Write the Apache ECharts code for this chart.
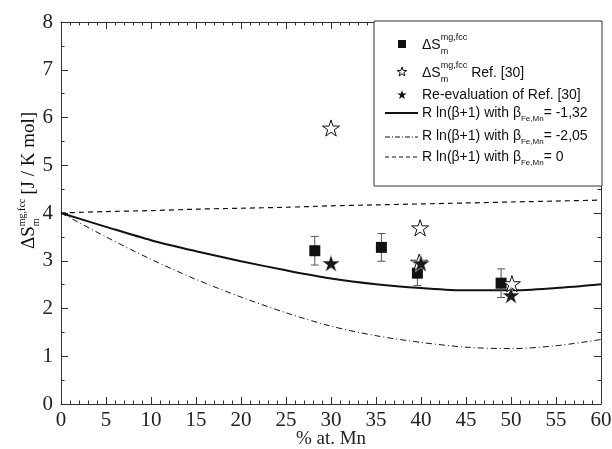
<!DOCTYPE html>
<html>
<head>
<meta charset="utf-8">
<script src="https://cdn.jsdelivr.net/npm/echarts@6/dist/echarts.min.js"></script>
<style>
  html, body { margin: 0; padding: 0; background: #fff; }
  #chart { width: 612px; height: 449px; }
</style>
</head>
<body>
<div id="chart"></div>
<script>
// curves, read every 5 % at. Mn
const curveX = [0, 5, 10, 15, 20, 25, 30, 35, 40, 45, 50, 55, 60]
const solidY = [4.00, 3.71, 3.43, 3.20, 2.99, 2.80, 2.63, 2.51, 2.43, 2.38, 2.38, 2.43, 2.51]
const dashDotY = [4.00, 3.50, 3.03, 2.61, 2.24, 1.91, 1.63, 1.43, 1.29, 1.19, 1.16, 1.22, 1.35]
const dashedY = [4.00, 4.03, 4.05, 4.08, 4.10, 4.12, 4.15, 4.17, 4.19, 4.21, 4.23, 4.25, 4.27]

// measured points
const sqX = [28.2, 35.6, 39.6, 48.9]
const sqY = [3.21, 3.28, 2.74, 2.53]
const sqErr = [0.30, 0.29, 0.26, 0.30]

const openStarX = [30.0, 39.9, 39.8, 50.1]
const openStarY = [5.78, 3.69, 2.97, 2.52]

const fullStarX = [30.0, 40.0, 50.0]
const fullStarY = [2.95, 2.95, 2.28]

const SERIF = '"Liberation Serif", "DejaVu Serif", serif'
const SANS = '"Liberation Sans", Arial, sans-serif'
const INK = '#111'

const starPath = 'path://M100 0 L122.45 69.1 L195.1 69.1 L136.3 111.8 L158.8 180.9 L100 138.2 L41.2 180.9 L63.7 111.8 L4.9 69.1 L77.55 69.1 Z'

// text helpers for the hand made legend and y title
const ctx = document.createElement('canvas').getContext('2d')
function measure(t, size, fam) {
  ctx.font = size + 'px ' + fam
  return ctx.measureText(t).width
}
function txt(t, x, y, size, fam) {
  return {
    type: 'text', x: x, y: y,
    style: { text: t, fontSize: size, fontFamily: fam, fill: INK, textAlign: 'left', textVerticalAlign: 'middle' }
  }
}
// parts: {text,size} | {sup,sub,size,off} | {sub,size,off}
function richRow(x, y, parts, fam) {
  const out = []
  let cx = x
  parts.forEach((p) => {
    if (p.sup !== undefined) {
      out.push(txt(p.sup, cx, y - p.off, p.size, fam))
      out.push(txt(p.sub, cx, y + p.off, p.size, fam))
      cx += Math.max(measure(p.sup, p.size, fam), measure(p.sub, p.size, fam)) + (p.gap || 0)
    } else if (p.sub !== undefined) {
      out.push(txt(p.sub, cx, y + p.off, p.size, fam))
      cx += measure(p.sub, p.size, fam) + (p.gap || 0)
    } else {
      out.push(txt(p.text, cx, y, p.size, fam))
      cx += measure(p.text, p.size, fam) + (p.gap || 0)
    }
  })
  return out
}
function starPts(cx, cy, r) {
  const pts = []
  for (let i = 0; i < 10; i++) {
    const a = -Math.PI / 2 + i * Math.PI / 5
    const rr = i % 2 ? r * 0.382 : r
    pts.push([cx + rr * Math.cos(a), cy + rr * Math.sin(a)])
  }
  return pts
}

const lgX = 422
const legendEls = [
  { type: 'rect', shape: { x: 374, y: 21, width: 228, height: 165 }, style: { fill: '#fff', stroke: '#333', lineWidth: 1 }, z: 10 },
  { type: 'rect', shape: { x: 398, y: 40, width: 8, height: 8 }, style: { fill: INK }, z: 11 },
  { type: 'polygon', shape: { points: starPts(402, 72, 5) }, style: { fill: '#fff', stroke: INK, lineWidth: 1 }, z: 11 },
  { type: 'polygon', shape: { points: starPts(402, 95, 5) }, style: { fill: INK }, z: 11 },
  { type: 'line', shape: { x1: 385, y1: 113, x2: 418, y2: 113 }, style: { stroke: INK, lineWidth: 2 }, z: 11 },
  { type: 'line', shape: { x1: 385, y1: 137, x2: 418, y2: 137 }, style: { stroke: INK, lineWidth: 1, lineDash: [5, 2, 1, 2] }, z: 11 },
  { type: 'line', shape: { x1: 385, y1: 157, x2: 418, y2: 157 }, style: { stroke: INK, lineWidth: 1, lineDash: [4, 3] }, z: 11 }
]
const legendTexts = [].concat(
  richRow(lgX, 45, [{ text: 'ΔS', size: 14 }, { sup: 'mg,fcc', sub: 'm', size: 9, off: 7 }], SANS),
  richRow(lgX, 73, [{ text: 'ΔS', size: 14 }, { sup: 'mg,fcc', sub: 'm', size: 9, off: 7, gap: 4 }, { text: 'Ref. [30]', size: 14 }], SANS),
  richRow(lgX, 95, [{ text: 'Re-evaluation of Ref. [30]', size: 14 }], SANS),
  richRow(lgX, 113, [{ text: 'R ln(β+1) with β', size: 14 }, { sub: 'Fe,Mn', size: 8, off: 6 }, { text: '= -1,32', size: 14 }], SANS),
  richRow(lgX, 136, [{ text: 'R ln(β+1) with β', size: 14 }, { sub: 'Fe,Mn', size: 8, off: 6 }, { text: '= -2,05', size: 14 }], SANS),
  richRow(lgX, 157, [{ text: 'R ln(β+1) with β', size: 14 }, { sub: 'Fe,Mn', size: 8, off: 6 }, { text: '= 0', size: 14 }], SANS)
)
legendTexts.forEach((t) => { t.z = 12 })

const yTitle = {
  type: 'group', x: 29, y: 249, rotation: Math.PI / 2,
  children: richRow(0, 0, [
    { text: 'ΔS', size: 19 },
    { sup: 'mg,fcc', sub: 'm', size: 10, off: 7, gap: 4 },
    { text: '[J / K mol]', size: 19 }
  ], SERIF)
}

const chart = echarts.init(document.getElementById('chart'), null, { renderer: 'canvas' })

const axisCommon = {
  type: 'value',
  axisLine: { show: true, onZero: false, lineStyle: { color: '#333', width: 1 } },
  axisTick: { show: true, inside: true, length: 7, lineStyle: { color: '#333' } },
  minorTick: { show: true, length: 3.5, lineStyle: { color: '#333' } },
  splitLine: { show: false }
}
const labelStyle = { fontFamily: SERIF, fontSize: 21, color: '#222' }

const option = {
  animation: false,
  backgroundColor: '#fff',
  grid: { left: 61, right: 11, top: 22, bottom: 45, containLabel: false, outerBoundsMode: 'none' },
  xAxis: [
    Object.assign({}, axisCommon, {
      min: 0, max: 60, interval: 5, position: 'bottom',
      minorTick: Object.assign({}, axisCommon.minorTick, { splitNumber: 5 }),
      axisLabel: Object.assign({ margin: 6, showMinLabel: true, showMaxLabel: true }, labelStyle),
      name: '% at. Mn', nameLocation: 'middle', nameGap: 26, nameMoveOverlap: false,
      nameTextStyle: { fontFamily: SERIF, fontSize: 19, color: '#222' }
    }),
    Object.assign({}, axisCommon, {
      min: 0, max: 60, interval: 5, position: 'top',
      minorTick: Object.assign({}, axisCommon.minorTick, { splitNumber: 5 }),
      axisLabel: { show: false }
    })
  ],
  yAxis: [
    Object.assign({}, axisCommon, {
      min: 0, max: 8, interval: 1, position: 'left',
      minorTick: Object.assign({}, axisCommon.minorTick, { splitNumber: 2 }),
      axisLabel: Object.assign({ margin: 8, showMinLabel: true, showMaxLabel: true }, labelStyle)
    }),
    Object.assign({}, axisCommon, {
      min: 0, max: 8, interval: 1, position: 'right',
      minorTick: Object.assign({}, axisCommon.minorTick, { splitNumber: 2 }),
      axisLabel: { show: false }
    })
  ],
  graphic: [yTitle].concat(legendEls, legendTexts),
  series: [
    {
      name: 'beta0', type: 'line', smooth: 0.3, symbol: 'none', z: 1,
      lineStyle: { color: INK, width: 1.2, type: [5, 4] },
      data: curveX.map((x, i) => [x, dashedY[i]])
    },
    {
      name: 'beta205', type: 'line', smooth: 0.3, symbol: 'none', z: 1,
      lineStyle: { color: INK, width: 1, type: [6, 3, 1, 3] },
      data: curveX.map((x, i) => [x, dashDotY[i]])
    },
    {
      name: 'beta132', type: 'line', smooth: 0.3, symbol: 'none', z: 1,
      lineStyle: { color: INK, width: 2 },
      data: curveX.map((x, i) => [x, solidY[i]])
    },
    {
      name: 'err', type: 'custom', z: 2,
      renderItem: (params, api) => {
        const x = api.value(0)
        const top = api.coord([x, api.value(2)])
        const bot = api.coord([x, api.value(1)])
        const w = 4
        const st = { stroke: '#555', lineWidth: 1 }
        return {
          type: 'group',
          children: [
            { type: 'line', shape: { x1: top[0], y1: top[1], x2: bot[0], y2: bot[1] }, style: st },
            { type: 'line', shape: { x1: top[0] - w, y1: top[1], x2: top[0] + w, y2: top[1] }, style: st },
            { type: 'line', shape: { x1: bot[0] - w, y1: bot[1], x2: bot[0] + w, y2: bot[1] }, style: st }
          ]
        }
      },
      encode: { x: 0, y: [1, 2] },
      data: sqX.map((x, i) => [x, sqY[i] - sqErr[i], sqY[i] + sqErr[i]])
    },
    {
      name: 'squares', type: 'scatter', z: 3, symbol: 'rect', symbolSize: 11,
      itemStyle: { color: INK, opacity: 1 },
      data: sqX.map((x, i) => [x, sqY[i]])
    },
    {
      name: 'openStars', type: 'scatter', z: 4, symbol: starPath, symbolSize: 17, symbolKeepAspect: true,
      itemStyle: { color: '#fff', borderColor: INK, borderWidth: 1, opacity: 1 },
      data: openStarX.map((x, i) => [x, openStarY[i]])
    },
    {
      name: 'fullStars', type: 'scatter', z: 5, symbol: starPath, symbolSize: 18, symbolKeepAspect: true,
      itemStyle: { color: '#1a1a1a', borderColor: '#fff', borderWidth: 0.5, opacity: 1 },
      data: fullStarX.map((x, i) => [x, fullStarY[i]])
    }
  ]
}

chart.setOption(option)
</script>
</body>
</html>
